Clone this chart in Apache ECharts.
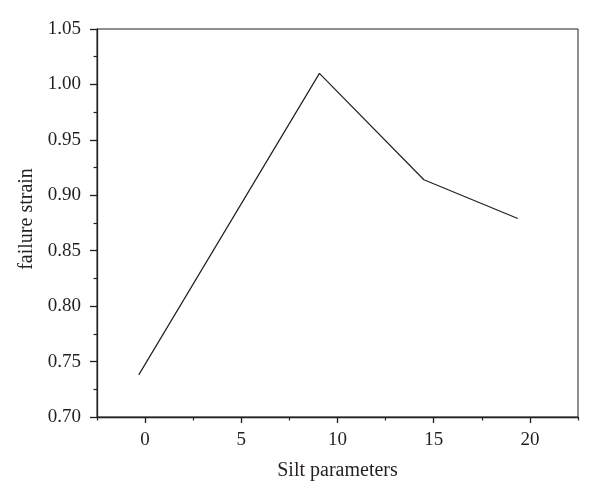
<!DOCTYPE html>
<html>
<head>
<meta charset="utf-8">
<script src="https://cdn.jsdelivr.net/npm/echarts@6/dist/echarts.min.js"></script>
<style>html,body{margin:0;padding:0;background:#fff;}#c{width:600px;height:499px;}</style>
</head>
<body>
<div id="c"></div>
<script>
var xValues = [-0.33, 9.06, 14.49, 19.37];
var yValues = [0.738, 1.010, 0.914, 0.879];
var xMajorTicks = [0, 5, 10, 15, 20];
var xMinorTicks = [-2.5, 2.5, 7.5, 12.5, 17.5, 22.5];
var xTitle = 'Silt parameters';
var yTitle = 'failure strain';

var font = 'Liberation Serif';
var ink = '#231f20';
var chart = echarts.init(document.getElementById('c'), null, {renderer: 'canvas'});
chart.setOption({
  animation: false,
  backgroundColor: '#fff',
  grid: {left: 97, right: 22, top: 29, bottom: 82, show: true, borderColor: ink, borderWidth: 1},
  xAxis: [{
    type: 'value', min: -2.5, max: 22.5,
    name: xTitle, nameLocation: 'middle', nameGap: 44,
    nameTextStyle: {fontFamily: font, fontSize: 20, color: ink},
    axisLine: {show: true, onZero: false, lineStyle: {color: ink, width: 1.3}},
    axisTick: {show: true, customValues: xMajorTicks, length: 6, inside: false, lineStyle: {color: ink, width: 1.3}},
    axisLabel: {customValues: xMajorTicks, fontFamily: font, fontSize: 19, color: ink, margin: 14},
    splitLine: {show: false}
  }, {
    type: 'value', min: -2.5, max: 22.5, position: 'bottom',
    axisLine: {show: false},
    axisTick: {show: true, customValues: xMinorTicks, length: 3.5, lineStyle: {color: ink, width: 1.2}},
    axisLabel: {show: false},
    splitLine: {show: false}
  }],
  yAxis: {
    type: 'value', min: 0.70, max: 1.05, interval: 0.05,
    name: yTitle, nameLocation: 'middle', nameGap: 54, nameRotate: 90,
    nameTextStyle: {fontFamily: font, fontSize: 20, color: ink, padding: [0, 0, 0, 8]},
    axisLine: {show: true, onZero: false, lineStyle: {color: ink, width: 1.3}},
    axisTick: {show: true, length: 7, lineStyle: {color: ink, width: 1.3}},
    minorTick: {show: true, splitNumber: 2, length: 3.5, lineStyle: {color: ink, width: 1.2}},
    axisLabel: {fontFamily: font, fontSize: 19, color: ink, margin: 16,
      formatter: function (v) { return v.toFixed(2); }},
    splitLine: {show: false}
  },
  series: [{
    type: 'line',
    xAxisIndex: 0,
    data: xValues.map(function (x, i) { return [x, yValues[i]]; }),
    showSymbol: false,
    lineStyle: {color: ink, width: 1.2}
  }]
});
</script>
</body>
</html>
